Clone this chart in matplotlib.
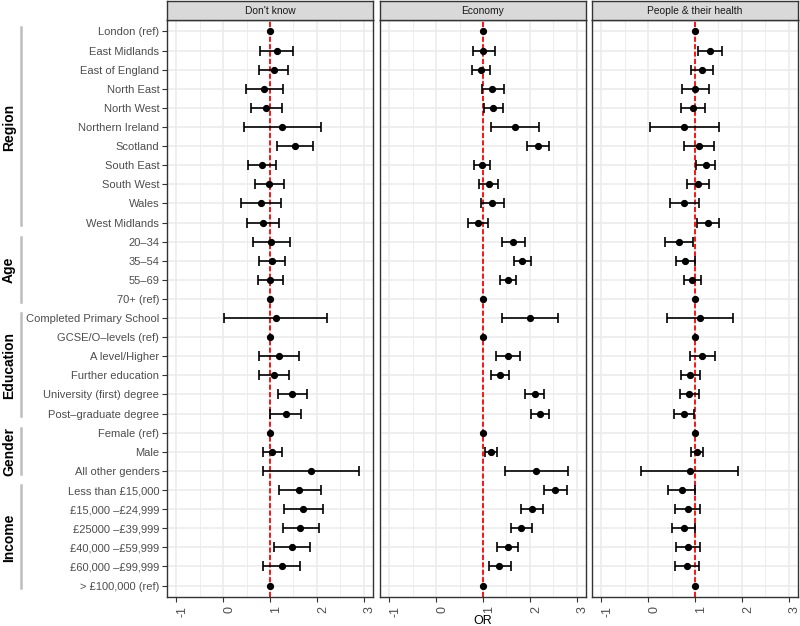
import numpy as np
import matplotlib
matplotlib.use('Agg')
from matplotlib import pyplot as plt
from matplotlib.transforms import blended_transform_factory

plt.rcParams['font.family'] = ['Liberation Sans', 'DejaVu Sans']

### Data
categories = ['London (ref)', 'East Midlands', 'East of England', 'North East',
              'North West', 'Northern Ireland', 'Scotland', 'South East',
              'South West', 'Wales', 'West Midlands',
              '20–34', '35–54', '55–69', '70+ (ref)',
              'Completed Primary School', 'GCSE/O–levels (ref)', 'A level/Higher',
              'Further education', 'University (first) degree', 'Post–graduate degree',
              'Female (ref)', 'Male', 'All other genders',
              'Less than £15,000', '£15,000 –£24,999', '£25000 –£39,999',
              '£40,000 –£59,999', '£60,000 –£99,999', '> £100,000 (ref)']

groups = ['Region', 'Age', 'Education', 'Gender', 'Income']
group_sizes = [11, 4, 6, 3, 6]

panels = ["Don't know", 'Economy', 'People & their health']

nan = np.nan

dk_or = [1.00, 1.14, 1.08, 0.88, 0.92, 1.26, 1.54, 0.83, 0.98, 0.81, 0.85,
         1.02, 1.05, 1.00, 1.00,
         1.12, 1.00, 1.19, 1.09, 1.47, 1.34,
         1.00, 1.05, 1.87,
         1.63, 1.71, 1.65, 1.46, 1.25, 1.00]
dk_lo = [nan, 0.78, 0.77, 0.49, 0.59, 0.44, 1.15, 0.54, 0.67, 0.39, 0.50,
         0.63, 0.77, 0.74, nan,
         0.02, nan, 0.77, 0.77, 1.18, 1.01,
         nan, 0.84, 0.84,
         1.20, 1.30, 1.27, 1.08, 0.86, nan]
dk_hi = [nan, 1.50, 1.38, 1.27, 1.25, 2.08, 1.92, 1.13, 1.30, 1.23, 1.20,
         1.42, 1.33, 1.27, nan,
         2.21, nan, 1.61, 1.41, 1.79, 1.66,
         nan, 1.25, 2.90,
         2.08, 2.13, 2.04, 1.86, 1.65, nan]

ec_or = [1.00, 1.01, 0.96, 1.20, 1.22, 1.69, 2.17, 0.98, 1.12, 1.20, 0.89,
         1.65, 1.84, 1.53, 1.00,
         2.00, 1.00, 1.53, 1.36, 2.10, 2.21,
         1.00, 1.17, 2.14,
         2.54, 2.05, 1.81, 1.53, 1.35, 1.00]
ec_lo = [nan, 0.78, 0.76, 0.98, 1.03, 1.18, 1.94, 0.80, 0.92, 0.96, 0.67,
         1.40, 1.66, 1.36, nan,
         1.40, nan, 1.27, 1.17, 1.90, 2.02,
         nan, 1.05, 1.48,
         2.30, 1.81, 1.60, 1.29, 1.12, nan]
ec_hi = [nan, 1.25, 1.15, 1.44, 1.42, 2.19, 2.41, 1.15, 1.32, 1.44, 1.11,
         1.90, 2.02, 1.70, nan,
         2.61, nan, 1.79, 1.56, 2.30, 2.41,
         nan, 1.29, 2.81,
         2.80, 2.29, 2.05, 1.75, 1.60, nan]

ph_or = [1.00, 1.32, 1.15, 1.01, 0.96, 0.77, 1.09, 1.23, 1.06, 0.77, 1.28,
         0.66, 0.79, 0.94, 1.00,
         1.11, 1.00, 1.15, 0.90, 0.87, 0.76,
         1.00, 1.05, 0.89,
         0.72, 0.84, 0.76, 0.85, 0.83, 1.00]
ph_lo = [nan, 1.06, 0.92, 0.73, 0.71, 0.04, 0.76, 1.03, 0.83, 0.46, 1.04,
         0.36, 0.60, 0.76, nan,
         0.41, nan, 0.89, 0.70, 0.67, 0.55,
         nan, 0.91, -0.15,
         0.43, 0.58, 0.51, 0.60, 0.58, nan]
ph_hi = [nan, 1.58, 1.38, 1.29, 1.21, 1.51, 1.40, 1.43, 1.29, 1.09, 1.52,
         0.96, 0.99, 1.12, nan,
         1.82, nan, 1.43, 1.11, 1.09, 0.97,
         nan, 1.18, 1.92,
         1.01, 1.11, 1.01, 1.11, 1.09, nan]

panel_data = [(dk_or, dk_lo, dk_hi), (ec_or, ec_lo, ec_hi), (ph_or, ph_lo, ph_hi)]
x_ticks = [-1, 0, 1, 2, 3]

### Figure
W, H = 800, 626
fig = plt.figure(figsize=(W / 100, H / 100), dpi=100)

panel_lefts = [167, 380, 592]
panel_w = 206
panel_top, panel_bottom = 20, 597
strip_top = 1

y = np.arange(len(categories))
axes = []
for i, (left, name) in enumerate(zip(panel_lefts, panels)):
    ax = fig.add_axes([left / W, 1 - panel_bottom / H, panel_w / W, (panel_bottom - panel_top) / H])
    axes.append(ax)
    val, lo, hi = [np.array(a, dtype=float) for a in panel_data[i]]

    # grid like theme_bw
    ax.set_xticks(x_ticks)
    ax.set_xticks([-0.5, 0.5, 1.5, 2.5], minor=True)
    ax.set_yticks(y)
    ax.grid(True, which='major', color='#EBEBEB', lw=1.1, zorder=0)
    ax.grid(True, which='minor', axis='x', color='#EBEBEB', lw=0.6, zorder=0)
    ax.set_axisbelow(True)

    ax.axvline(1, color='red', lw=1.3, dashes=(2.8, 1.3), zorder=2)

    has_ci = ~np.isnan(lo)
    ax.errorbar(val[has_ci], y[has_ci],
                xerr=[val[has_ci] - lo[has_ci], hi[has_ci] - val[has_ci]],
                fmt='none', ecolor='black', elinewidth=1.2, capsize=3.4, capthick=1.2,
                zorder=3)
    ax.plot(val, y, 'o', color='black', ms=4.2, zorder=4)

    ax.set_xlim(-1.2, 3.2)
    ax.set_ylim(len(categories) - 1 + 0.6, -0.6)

    for s in ax.spines.values():
        s.set_color('#333333')
        s.set_linewidth(1.0)

    ax.set_xticklabels([str(t) for t in x_ticks], rotation=90, va='top', ha='left',
                       fontsize=9, color='#4D4D4D')
    for lab in ax.get_xticklabels():
        lab.set_rotation_mode('default')
    ax.tick_params(axis='x', which='major', length=3.5, width=0.8, color='#333333', pad=3)
    ax.tick_params(axis='x', which='minor', length=0)
    if i == 0:
        ax.set_yticklabels(categories, fontsize=8, color='#4D4D4D')
        ax.tick_params(axis='y', length=3.5, width=0.8, color='#333333', pad=2)
    else:
        ax.tick_params(axis='y', length=0, labelleft=False)

    # strip on top
    sax = fig.add_axes([left / W, 1 - panel_top / H, panel_w / W, (panel_top - strip_top) / H])
    sax.set_facecolor('#D9D9D9')
    sax.set_xticks([])
    sax.set_yticks([])
    for s in sax.spines.values():
        s.set_color('#333333')
        s.set_linewidth(1.0)
    sax.text(0.5, 0.5, name, ha='center', va='center', fontsize=7.4, color='#1A1A1A',
             transform=sax.transAxes)

fig.text((panel_lefts[0] + panel_lefts[-1] + panel_w) / 2 / W, 1 - 621 / H, 'OR',
         ha='center', va='center', fontsize=9, color='black')

### Group labels and side lines
trans = blended_transform_factory(fig.transFigure, axes[0].transData)
start = 0
for name, n in zip(groups, group_sizes):
    end = start + n - 1
    line = plt.Line2D([21 / W, 21 / W], [start - 0.25, end + 0.15], transform=trans,
                      color='#BDBDBD', lw=1.8)
    fig.add_artist(line)
    fig.text(9 / W, (start + end) / 2, name, transform=trans, rotation=90,
             ha='center', va='center', fontsize=10, fontweight='bold', color='black')
    start += n

plt.savefig('out.png', dpi=100)
